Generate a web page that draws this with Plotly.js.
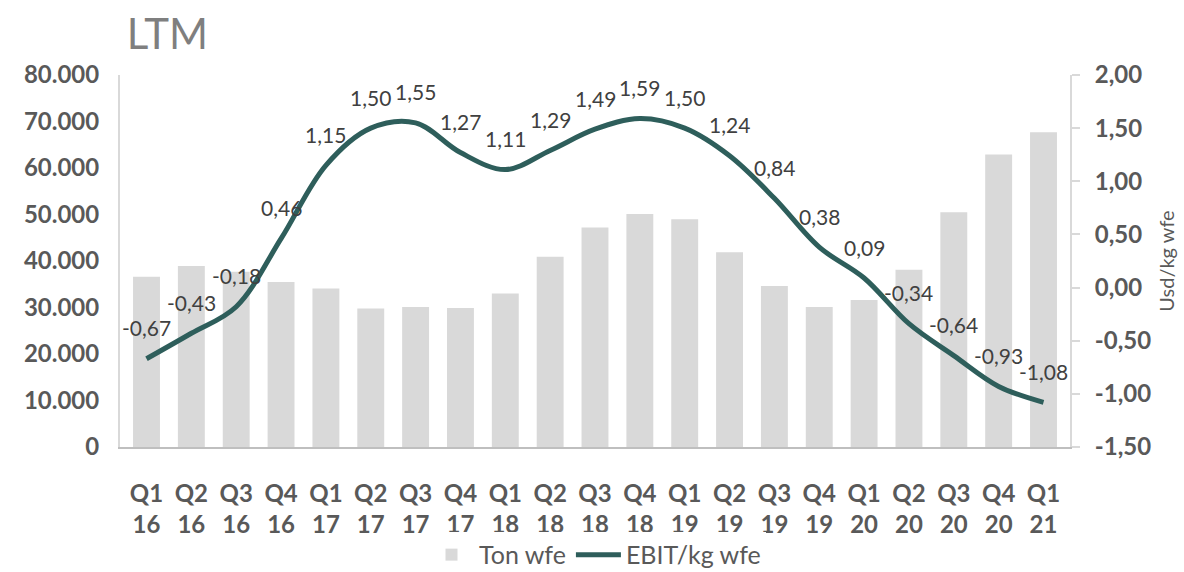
<!DOCTYPE html>
<html><head><meta charset="utf-8">
<script src="https://cdn.plot.ly/plotly-3.0.1.min.js"></script>
<style>body{margin:0;background:#fff}#chart{width:1184px;height:572px}</style>
</head><body><div id="chart"></div>
<script>
const quarters = ["Q1","Q2","Q3","Q4","Q1","Q2","Q3","Q4","Q1","Q2","Q3","Q4","Q1","Q2","Q3","Q4","Q1","Q2","Q3","Q4","Q1"];
const years = ["16","16","16","16","17","17","17","17","18","18","18","18","19","19","19","19","20","20","20","20","21"];
const tonWfe = [36600,38900,37700,35500,34100,29800,30100,29900,33000,40900,47200,50100,49000,41900,34600,30100,31600,38100,50500,62900,67700];
const ebitPerKg = [-0.67,-0.43,-0.18,0.46,1.15,1.50,1.55,1.27,1.11,1.29,1.49,1.59,1.50,1.24,0.84,0.38,0.09,-0.34,-0.64,-0.93,-1.08];
const leftTicks = [0,10000,20000,30000,40000,50000,60000,70000,80000];
const rightTicks = [-1.5,-1,-0.5,0,0.5,1,1.5,2];

const cats = quarters.map((q,i)=>q+"<br>"+years[i]);
const fmt2 = v => (v<0?"-":"") + Math.abs(v).toFixed(2).replace(".",",");
const fmtK = v => v.toLocaleString("de-DE");

const bars = {type:"bar", x:cats, y:tonWfe, name:"Ton wfe", marker:{color:"#d9d9d9"}, yaxis:"y", hoverinfo:"none"};
const line = {type:"scatter", mode:"lines", x:cats, y:ebitPerKg, name:"EBIT/kg wfe", yaxis:"y2",
  line:{color:"#2e5e5b", width:5, shape:"spline", smoothing:1.0}, hoverinfo:"none"};

const annotations = cats.map((c,i)=>({x:c, y:ebitPerKg[i], xref:"x", yref:"y2", text:fmt2(ebitPerKg[i]),
  showarrow:false, yshift:31, font:{family:"Lato, sans-serif", size:21, color:"#404040"}}));

const tickFont = {family:"Lato, sans-serif", size:24, color:"#595959", weight:"bold"};
const layout = {
  width:1184, height:572,
  margin:{l:120, r:114, t:75, b:125, autoexpand:false},
  paper_bgcolor:"#fff", plot_bgcolor:"#fff",
  bargap:0.4,
  showlegend:true,
  legend:{orientation:"h", x:0.5, xanchor:"center", y:-0.29, yanchor:"middle", itemwidth:45,
    font:{family:"Lato, sans-serif", size:25, color:"#595959"}},
  title:{text:"LTM", x:0.107, xref:"container", xanchor:"left", y:0.94, yref:"container", yanchor:"middle",
    font:{family:"Lato, sans-serif", size:42, color:"#7f7f7f"}},
  xaxis:{type:"category", showgrid:false, showline:true, linecolor:"#bfbfbf", linewidth:2,
    ticks:"", tickfont:tickFont, ticklabelstandoff:24, automargin:false},
  yaxis:{range:[0,80000], tickvals:leftTicks, ticktext:leftTicks.map(fmtK), showgrid:false, zeroline:false,
    showline:true, linecolor:"#d9d9d9", linewidth:2, ticks:"", automargin:false,
    tickfont:tickFont, ticklabelstandoff:14},
  yaxis2:{overlaying:"y", side:"right", range:[-1.5,2], tickvals:rightTicks, ticktext:rightTicks.map(fmt2),
    showgrid:false, zeroline:false, showline:true, linecolor:"#d9d9d9", linewidth:2, automargin:false,
    ticks:"outside", ticklen:8, tickcolor:"#d9d9d9", tickwidth:2,
    tickfont:tickFont, ticklabelstandoff:10,
    title:{text:"Usd/kg wfe", standoff:10, font:{family:"Lato, sans-serif", size:20, color:"#595959"}}},
  annotations:annotations
};
Plotly.newPlot("chart",[bars,line],layout,{staticPlot:true});
</script></body></html>
